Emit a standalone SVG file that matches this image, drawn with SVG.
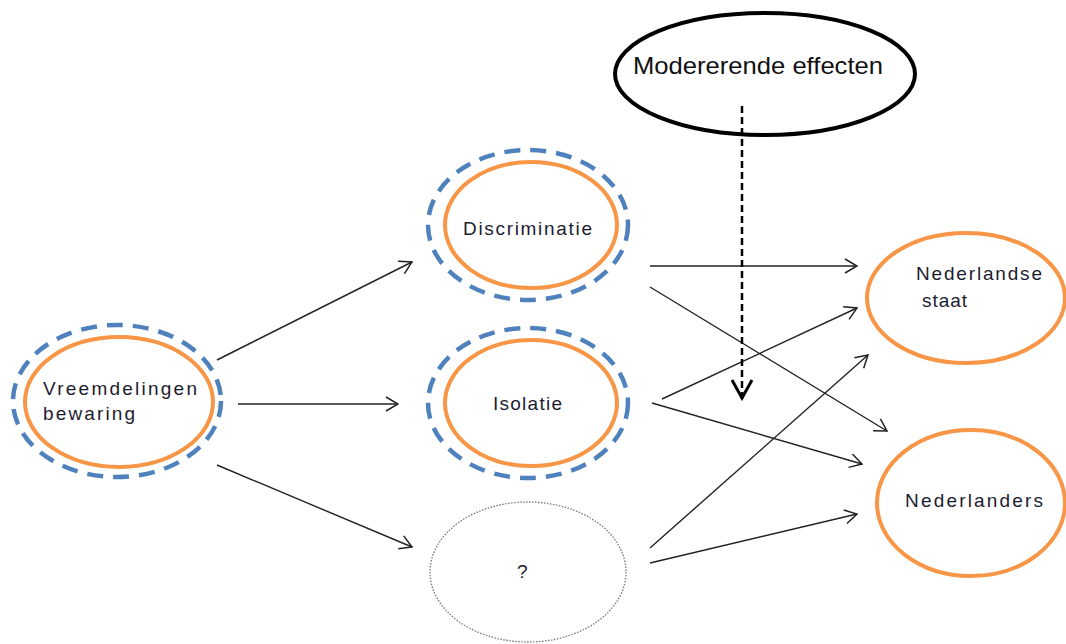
<svg xmlns="http://www.w3.org/2000/svg" width="1066" height="644" viewBox="0 0 1066 644">
<defs>
<style>
.o{fill:none;stroke:#F79646;stroke-width:4}
.b{fill:none;stroke:#4F81BD;stroke-width:4.5;stroke-dasharray:16 10}
.t{font-family:"Liberation Sans",Arial,sans-serif;font-size:19px;fill:#1c1c30}
.c{fill:none;stroke:#222;stroke-width:1.4}
</style>
<marker id="ah" viewBox="0 0 14 16" refX="13" refY="8" markerWidth="14" markerHeight="16" markerUnits="userSpaceOnUse" orient="auto">
<path d="M1,1 L13,8 L1,15" fill="none" stroke="#222" stroke-width="1.5"/>
</marker>
<marker id="ahd" viewBox="0 0 24 24" refX="22" refY="12" markerWidth="24" markerHeight="24" markerUnits="userSpaceOnUse" orient="auto">
<path d="M3,2 L21,12 L3,22" fill="none" stroke="#000" stroke-width="3"/>
</marker>
</defs>
<rect width="1066" height="644" fill="#fff"/>
<g id="connectors">
<line class="c" x1="217" y1="360" x2="412" y2="262" marker-end="url(#ah)"/>
<line class="c" x1="238" y1="404" x2="398" y2="404" marker-end="url(#ah)"/>
<line class="c" x1="217" y1="465" x2="412" y2="547" marker-end="url(#ah)"/>
<line class="c" x1="650" y1="266" x2="857" y2="266" marker-end="url(#ah)"/>
<line class="c" x1="650" y1="287" x2="887" y2="431" marker-end="url(#ah)"/>
<line class="c" x1="662" y1="399" x2="857" y2="308" marker-end="url(#ah)"/>
<line class="c" x1="652" y1="403" x2="862" y2="464" marker-end="url(#ah)"/>
<line class="c" x1="650" y1="548" x2="868" y2="355" marker-end="url(#ah)"/>
<line class="c" x1="650" y1="563" x2="857" y2="514" marker-end="url(#ah)"/>
<line x1="742" y1="106" x2="742" y2="399" fill="none" stroke="#000" stroke-width="2.5" stroke-dasharray="7 4" marker-end="url(#ahd)"/>
</g>
<g id="moderator">
<ellipse cx="765" cy="74" rx="150" ry="61" fill="none" stroke="#000" stroke-width="4"/>
<text x="633" y="74" font-family="'Liberation Sans',Arial,sans-serif" font-size="24" fill="#111" textLength="250" lengthAdjust="spacingAndGlyphs">Modererende effecten</text>
</g>
<g id="vreemdelingenbewaring">
<ellipse class="b" cx="117" cy="401" rx="104" ry="76"/>
<ellipse class="o" cx="119" cy="402" rx="94" ry="65"/>
<text class="t" x="43" y="395" textLength="154" lengthAdjust="spacing">Vreemdelingen</text>
<text class="t" x="43" y="420" textLength="92" lengthAdjust="spacing">bewaring</text>
</g>
<g id="discriminatie">
<ellipse class="b" cx="528" cy="225" rx="100" ry="75"/>
<ellipse class="o" cx="531" cy="225" rx="86" ry="63"/>
<text class="t" x="463" y="235" textLength="129" lengthAdjust="spacing">Discriminatie</text>
</g>
<g id="isolatie">
<ellipse class="b" cx="528" cy="403" rx="100" ry="75"/>
<ellipse class="o" cx="531" cy="403" rx="86" ry="63"/>
<text class="t" x="493" y="410" textLength="69" lengthAdjust="spacing">Isolatie</text>
</g>
<g id="onbekend">
<ellipse cx="528" cy="572" rx="98" ry="70" fill="none" stroke="#777" stroke-width="1.3" stroke-dasharray="1.5 1.5"/>
<text class="t" x="517" y="578">?</text>
</g>
<g id="nederlandse-staat">
<ellipse class="o" cx="966" cy="298" rx="99" ry="65"/>
<text class="t" x="916" y="280" textLength="126" lengthAdjust="spacing">Nederlandse</text>
<text class="t" x="922" y="307" textLength="45" lengthAdjust="spacing">staat</text>
</g>
<g id="nederlanders">
<ellipse class="o" cx="971" cy="503" rx="94" ry="73"/>
<text class="t" x="905" y="507" textLength="138" lengthAdjust="spacing">Nederlanders</text>
</g>
</svg>
